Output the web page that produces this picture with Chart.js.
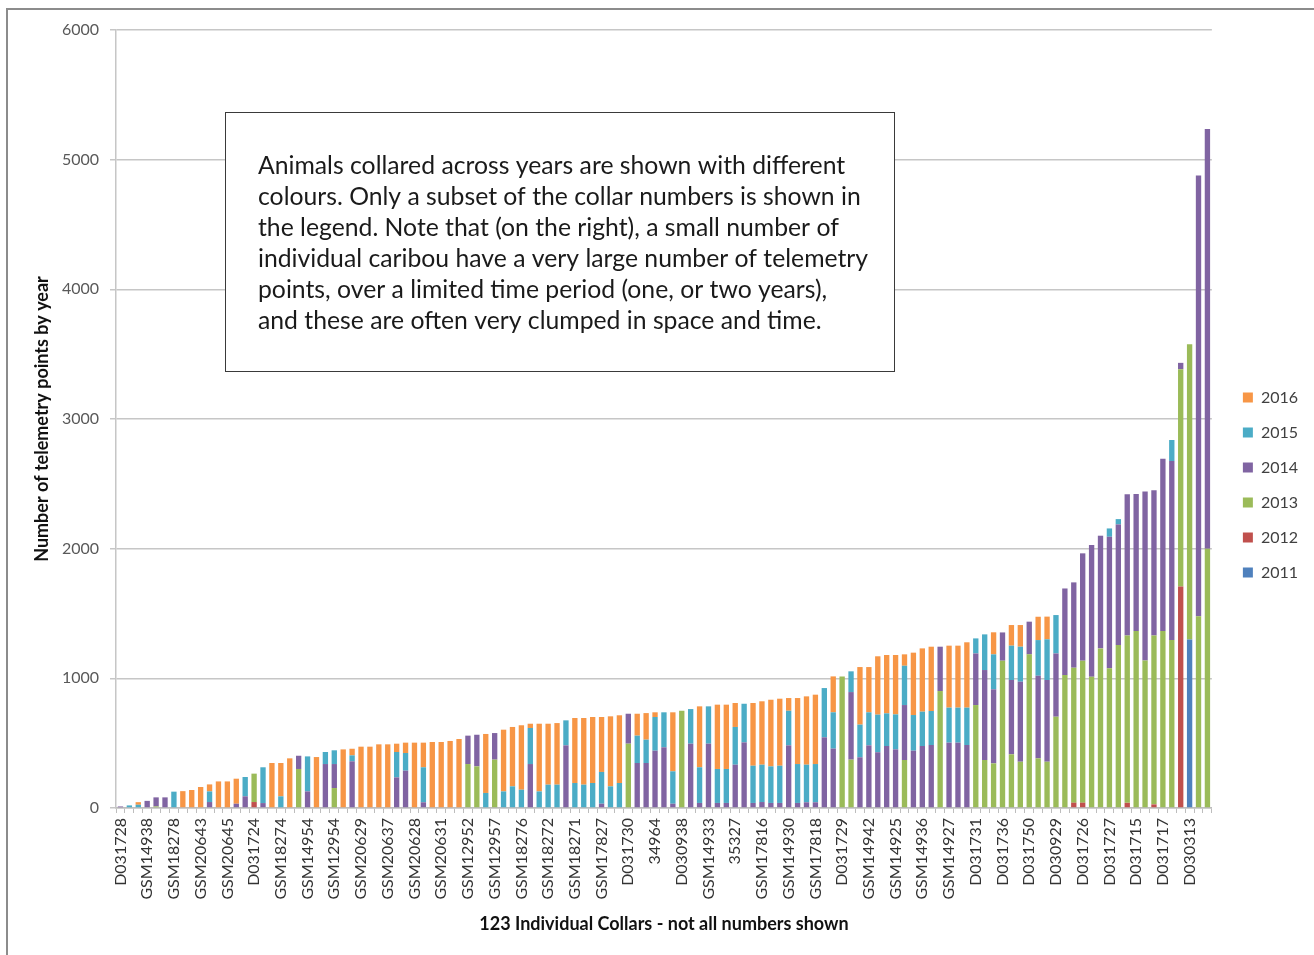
<!DOCTYPE html>
<html>
<head>
<meta charset="utf-8">
<script src="https://cdn.jsdelivr.net/npm/chart.js@4"></script>
<style>
  html, body { margin: 0; padding: 0; background: #ffffff; overflow: hidden; }
  #frame { position: absolute; left: 6px; top: 8px; width: 1400px; height: 1000px; border: 2px solid #8c8c8c; }
  #wrap { position: absolute; left: 0; top: 0; width: 1314px; height: 955px; }
</style>
</head>
<body>
<div id="frame"></div>
<div id="wrap"><canvas id="collarChart" width="1314" height="955"></canvas></div>
<script>
// collar numbers printed under the axis (every third bar)
var shownCollars = ['D031728','GSM14938','GSM18278','GSM20643','GSM20645','D031724','GSM18274',
  'GSM14954','GSM12954','GSM20629','GSM20637','GSM20628','GSM20631','GSM12952','GSM12957',
  'GSM18276','GSM18272','GSM18271','GSM17827','D031730','34964','D030938','GSM14933','35327',
  'GSM17816','GSM14930','GSM17818','D031729','GSM14942','GSM14925','GSM14936','GSM14927',
  'D031731','D031736','D031750','D030929','D031726','D031727','D031715','D031717','D030313'];
var collarCount = 123;

var years = ['2011', '2012', '2013', '2014', '2015', '2016'];
var yearColors = ['#4F81BD', '#C0504D', '#9BBB59', '#8064A2', '#4BACC6', '#F79646'];

var pts2011 = [
  0,0,0,0,0,0,0,0,0,0, 0,0,0,0,0,0,0,0,0,0, 0,0,0,0,0,0,0,0,0,0, 0,0,0,0,0,0,0,0,0,0,
  0,0,0,0,0,0,0,0,0,0, 0,0,0,0,0,0,0,0,0,0, 0,0,0,0,0,0,0,0,0,0, 0,0,0,0,0,0,0,0,0,0,
  0,0,0,0,0,0,0,0,0,0, 0,0,0,0,0,0,0,0,0,0, 0,0,0,0,0,0,0,0,0,0, 0,0,0,0,0,0,0,0,0,0,
  1300,0,0];
var pts2012 = [
  0,0,0,0,0,0,0,0,0,0, 0,0,0,0,0,46,0,0,0,0, 0,0,0,0,0,0,0,0,0,0, 0,0,0,0,0,0,0,0,0,0,
  0,0,0,0,0,0,0,0,0,0, 0,0,0,0,0,0,0,0,0,0, 0,0,0,0,0,0,0,0,0,0, 0,0,0,0,0,0,0,0,0,0,
  0,0,0,0,0,0,0,0,0,0, 0,0,0,0,0,0,0,0,0,0, 0,0,0,0,0,0,0,41,41,0, 0,0,0,40,0,0,28,0,0,1708,
  0,0,0];
var pts2013 = [
  0,0,0,0,12,0,0,0,0,0, 0,0,0,0,0,219,0,0,0,0, 301,0,0,0,154,0,0,0,0,0, 0,0,0,0,0,0,0,0,0,339,
  321,0,373,0,0,0,0,0,0,0, 0,0,0,0,0,0,0,496,0,0, 0,0,0,750,0,0,0,0,0,0, 0,0,0,0,0,0,0,0,0,0,
  0,1015,373,0,0,0,0,0,370,0, 0,0,902,0,0,0,794,370,344,1136,
  414,357,1185,383,357,704,1025,1041,1095,1013, 1231,1077,1257,1290,1366,1137,1303,1366,1296,1676,
  2277,1479,2000];
var pts2014 = [
  12,0,0,55,70,82,0,0,0,0, 46,0,0,33,90,0,38,0,0,0, 102,128,0,339,185,0,360,0,0,0,
  0,236,288,0,44,0,0,0,0,219, 244,0,205,0,0,0,339,0,0,0, 483,0,0,0,33,0,0,231,347,347,
  442,468,33,0,496,39,496,39,39,334, 506,39,46,39,39,483,39,44,44,545,
  458,0,521,391,483,430,478,452,424,442, 478,486,342,504,504,486,398,694,571,218,
  573,617,252,637,630,488,668,658,828,1015, 869,1015,930,1090,1056,1303,1120,1327,1380,49,
  0,3398,3236];
var pts2015 = [
  0,20,25,0,0,0,126,0,0,0, 82,0,0,0,149,0,276,0,90,0, 0,270,0,93,106,0,46,0,0,0,
  0,196,136,0,270,0,0,0,0,0, 0,116,0,128,167,141,278,128,180,180, 193,193,180,193,245,167,193,0,211,180,
  260,270,250,0,267,275,288,262,262,291, 298,287,288,282,287,267,300,290,295,380,
  280,0,160,252,255,290,252,270,303,275, 265,262,0,270,270,288,116,275,270,0,
  265,270,0,275,314,296,0,0,0,0, 0,64,41,0,0,0,0,0,162,0,
  0,0,0];
var pts2016 = [
  0,0,20,0,0,0,0,130,139,162, 54,205,205,193,0,0,0,347,257,383, 0,0,393,0,0,452,51,473,473,491,
  491,64,80,504,190,509,509,517,532,0, 0,455,0,476,458,497,33,522,470,475, 0,501,514,509,424,540,522,0,169,205,
  36,0,455,0,0,470,0,496,496,185, 0,484,489,514,517,98,509,527,535,0,
  277,0,0,444,349,450,450,458,88,481, 488,496,0,478,478,504,0,0,170,0,
  159,167,0,180,175,0,0,0,0,0, 0,0,0,0,0,0,0,0,0,0,
  0,0,0];

var yTicks = [0, 1000, 2000, 3000, 4000, 5000, 6000];

var noteLines = [
  'Animals collared across years are shown with different',
  'colours. Only a subset of the collar numbers is shown in',
  'the legend. Note that (on the right), a small number of',
  'individual caribou have a very large number of telemetry',
  'points, over a limited time period (one, or two years),',
  'and these are often very clumped in space and time.'
];

// one category per collar, only every third one has its number printed
var collarLabels = [];
for (var i = 0; i < collarCount; i++) {
  collarLabels.push(i % 3 == 0 ? shownCollars[i / 3] : '');
}

var allPts = [pts2011, pts2012, pts2013, pts2014, pts2015, pts2016];
var datasets = [];
for (var k = 0; k < years.length; k++) {
  datasets.push({
    label: years[k],
    data: allPts[k],
    backgroundColor: yearColors[k],
    borderWidth: 0,
    barPercentage: 0.6,
    categoryPercentage: 1.0
  });
}

// text box drawn over the plot
var noteBox = {
  id: 'noteBox',
  afterDraw: function(chart) {
    var ctx = chart.ctx;
    ctx.save();
    ctx.fillStyle = '#ffffff';
    ctx.fillRect(225, 112, 669, 259);
    ctx.strokeStyle = '#3a3a3a';
    ctx.lineWidth = 1;
    ctx.strokeRect(225.5, 112.5, 669, 259);
    ctx.fillStyle = '#1a1a1a';
    ctx.font = '22px Lato';
    ctx.textBaseline = 'middle';
    var widest = 0;
    noteLines.forEach(function(t) { widest = Math.max(widest, ctx.measureText(t).width); });
    var size = 22 * 610 / widest;
    ctx.font = size.toFixed(2) + 'px Lato';
    noteLines.forEach(function(t, n) {
      ctx.fillText(t, 258, 166 + n * 31);
    });
    ctx.restore();
  }
};

var chartEl = document.getElementById('collarChart');
var collarChart = new Chart(chartEl, {
  type: 'bar',
  data: {
    labels: collarLabels,
    datasets: datasets
  },
  options: {
    responsive: false,
    animation: false,
    layout: {
      padding: { left: 8, top: 30, right: 6, bottom: 15 }
    },
    plugins: {
      legend: {
        position: 'right',
        reverse: true,
        labels: {
          boxWidth: 10,
          boxHeight: 10,
          padding: 19,
          color: '#404040',
          font: { family: 'Lato', size: 16 }
        }
      },
      tooltip: { enabled: false }
    },
    scales: {
      x: {
        stacked: true,
        afterFit: function(s) { s.height = 132; },
        grid: {
          display: true,
          drawOnChartArea: false,
          offset: true,
          tickLength: 5,
          color: '#bdbdbd'
        },
        border: { color: '#bdbdbd', width: 1.5 },
        ticks: {
          autoSkip: false,
          maxRotation: 90,
          minRotation: 90,
          padding: 5,
          color: '#333333',
          font: { family: 'Lato', size: 16 }
        },
        title: {
          display: true,
          text: '123 Individual Collars - not all numbers shown',
          color: '#111111',
          padding: { top: 4, bottom: 5 },
          font: { family: 'Lato', size: 18, weight: 'bold' }
        }
      },
      y: {
        stacked: true,
        min: 0,
        max: 6000,
        afterFit: function(s) { s.width = 108; },
        afterBuildTicks: function(s) {
          s.ticks = yTicks.map(function(v) { return { value: v }; });
        },
        grid: {
          color: '#c6c6c6',
          lineWidth: 1.5,
          tickLength: 6
        },
        border: { color: '#c6c6c6', width: 1.5 },
        ticks: {
          padding: 11,
          color: '#595959',
          font: { family: 'Lato', size: 16 },
          callback: function(v) { return String(v); }
        },
        title: {
          display: true,
          text: 'Number of telemetry points by year',
          color: '#111111',
          padding: { top: 23, bottom: 0 },
          font: { family: 'Lato', size: 18, weight: 'bold' }
        }
      },
      // empty strip between plot and legend
      gap: {
        type: 'linear',
        position: 'right',
        display: true,
        afterFit: function(s) { s.width = 12; },
        grid: { display: false },
        border: { display: false },
        ticks: { display: false }
      }
    }
  },
  plugins: [noteBox]
});
</script>
</body>
</html>
